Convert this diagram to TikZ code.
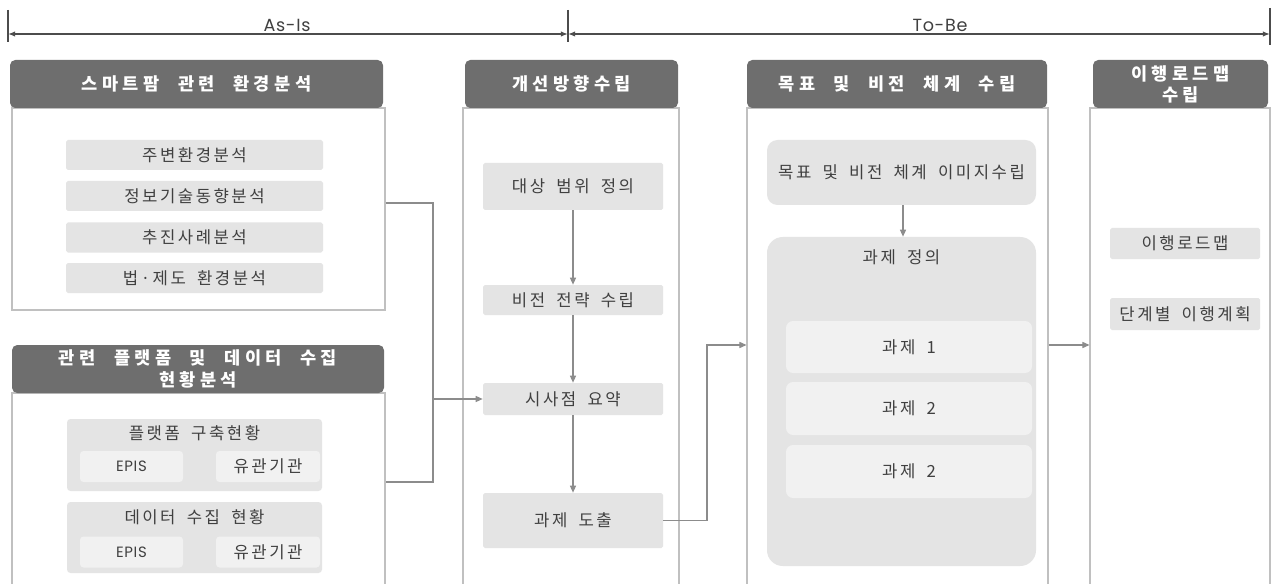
\documentclass[tikz,border=0pt]{standalone}
\usepackage{fontspec}
\setmainfont{Noto Sans CJK KR}[LetterSpace=15, WordSpace=1.8]
\newfontfamily\hdfont{Noto Sans CJK KR}[LetterSpace=25, WordSpace=2.2]
\newfontfamily\latfont{Poppins}[LetterSpace=4]
\usepackage{tikz}
\usetikzlibrary{arrows.meta, positioning}

\definecolor{hdgray}{HTML}{6E6E6E}
\definecolor{boxgray}{HTML}{E4E4E4}
\definecolor{subgray}{HTML}{F1F1F1}
\definecolor{linegray}{HTML}{C0C0C0}
\definecolor{arrgray}{HTML}{8C8C8C}
\definecolor{txtgray}{HTML}{404040}
\newcommand{\pxu}{0.02cm}

\begin{document}
\begin{tikzpicture}[x=0.02cm, y=-0.02cm,
  hdbox/.style={fill=hdgray, rounded corners=3pt, text=white, inner sep=0pt, align=center,
    font=\hdfont\bfseries\fontsize{10}{13}\selectfont, minimum height=48*\pxu},
  panel/.style={draw=linegray, fill=white, line width=0.6pt, inner sep=0pt},
  itembox/.style={fill=boxgray, text=txtgray, inner sep=0pt, rounded corners=1pt,
    font=\fontsize{9.5}{10}\selectfont, minimum height=30*\pxu},
  subbox/.style={fill=subgray, text=txtgray, inner sep=0pt, rounded corners=2pt,
    font=\fontsize{9.5}{10}\selectfont, minimum height=31*\pxu},
  lbl/.style={text=txtgray, inner sep=0pt, font=\fontsize{9.5}{10}\selectfont},
  conn/.style={draw=arrgray, line width=0.6pt},
  arr/.style={conn, -{Triangle[length=4pt, width=3.5pt]}},
  dim/.style={draw=black!70, line width=0.7pt, {Latex[length=4pt, width=3pt]}-{Latex[length=4pt, width=3pt]}},
]
  \clip (0,0) rectangle (1274,584);

  % time line
  \coordinate (tA) at (8,34);
  \coordinate (tB) at (568,34);
  \coordinate (tC) at (1270,34);
  \draw[black!70, line width=0.8pt] (8,10) -- (8,42) (568,10) -- (568,42) (1270,8) -- (1270,45);
  \draw[dim] (tA) -- (tB);
  \draw[dim] (tB) -- (tC);
  \node[font=\latfont\fontsize{10}{11}\selectfont, text=black!75] (asis) at (287,25) {As-Is};
  \node[font=\latfont\fontsize{10}{11}\selectfont, text=black!75] (tobe) at (940,25) {To-Be};

  % panels
  \node[panel, minimum width=373*\pxu, minimum height=202*\pxu] (env) at (198.5,209) {};
  \node[panel, minimum width=373*\pxu, minimum height=207*\pxu] (plat) at (198.5,496.5) {};
  \node[panel, minimum width=216*\pxu, minimum height=492*\pxu] (imp) at (571,354) {};
  \node[panel, minimum width=301*\pxu, minimum height=492*\pxu] (goal) at (897.5,354) {};
  \node[panel, minimum width=180*\pxu, minimum height=492*\pxu] (road) at (1180,354) {};

  % headers
  \node[hdbox, minimum width=373*\pxu] (envH) at (196.5,84) {스마트팜 관련 환경분석};
  \node[hdbox, minimum width=372*\pxu] (platH) at (198,369) {관련 플랫폼 및 데이터 수집\\현황분석};
  \node[hdbox, minimum width=213*\pxu] (impH) at (571.5,84) {개선방향수립};
  \node[hdbox, minimum width=300*\pxu] (goalH) at (897,84) {목표 및 비전 체계 수립};
  \node[hdbox, minimum width=175*\pxu, font=\hdfont\bfseries\fontsize{10}{12}\selectfont] (roadH) at (1180.5,84) {이행로드맵\\수립};

  % column 1
  \node[itembox, minimum width=257*\pxu] (e1) at (194.5,155) {주변환경분석};
  \node[itembox, minimum width=257*\pxu] (e2) at (194.5,196) {정보기술동향분석};
  \node[itembox, minimum width=257*\pxu] (e3) at (194.5,237.5) {추진사례분석};
  \node[itembox, minimum width=257*\pxu] (e4) at (194.5,278) {법·제도 환경분석};

  \node[itembox, minimum width=255*\pxu, minimum height=72*\pxu, rounded corners=2pt] (g1) at (194.5,455) {};
  \node[lbl] (g1t) at (194.5,433) {플랫폼 구축현황};
  \node[subbox, minimum width=103*\pxu, font=\latfont\fontsize{8.5}{9}\selectfont] (g1a) at (131.5,466.5) {EPIS};
  \node[subbox, minimum width=104*\pxu] (g1b) at (268,466.5) {유관기관};

  \node[itembox, minimum width=255*\pxu, minimum height=71*\pxu, rounded corners=2pt] (g2) at (194.5,537.5) {};
  \node[lbl] (g2t) at (194.5,517) {데이터 수집 현황};
  \node[subbox, minimum width=103*\pxu, font=\latfont\fontsize{8.5}{9}\selectfont] (g2a) at (131.5,552) {EPIS};
  \node[subbox, minimum width=104*\pxu] (g2b) at (268,552) {유관기관};

  % column 2
  \node[itembox, minimum width=180*\pxu, minimum height=47*\pxu] (s1) at (573,186.5) {대상 범위 정의};
  \node[itembox, minimum width=180*\pxu] (s2) at (573,300) {비전 전략 수립};
  \node[itembox, minimum width=180*\pxu, minimum height=32*\pxu] (s3) at (573,399) {시사점 요약};
  \node[itembox, minimum width=180*\pxu, minimum height=55*\pxu] (s4) at (573,520.5) {과제 도출};

  % column 3
  \node[itembox, minimum width=269*\pxu, minimum height=65*\pxu, rounded corners=6pt] (v1) at (901.5,172.5) {목표 및 비전 체계 이미지수립};
  \node[itembox, minimum width=269*\pxu, minimum height=329*\pxu, rounded corners=9pt] (tdef) at (901.5,401.5) {};
  \node[lbl] (tdefT) at (901.5,257) {과제 정의};
  \node[subbox, minimum width=246*\pxu, minimum height=52*\pxu, rounded corners=4pt] (k1) at (909,347) {과제 1};
  \node[subbox, minimum width=246*\pxu, minimum height=53*\pxu, rounded corners=4pt] (k2) at (909,408.5) {과제 2};
  \node[subbox, minimum width=246*\pxu, minimum height=53*\pxu, rounded corners=4pt] (k3) at (909,471.5) {과제 2};

  % column 4
  \node[itembox, minimum width=150*\pxu, minimum height=31*\pxu] (r1) at (1185,243.5) {이행로드맵};
  \node[itembox, minimum width=150*\pxu, minimum height=32*\pxu] (r2) at (1185,314) {단계별 이행계획};

  % connectors
  \coordinate (jn) at (433,399);
  \draw[conn] (env.east |- 0,203) -| (jn) |- (plat.east |- 0,482);
  \draw[arr] (jn) -- (s3.west);
  \draw[arr] (s1) -- (s2);
  \draw[arr] (s2) -- (s3);
  \draw[arr] (s3) -- (s4);
  \coordinate (bend) at (707,345);
  \draw[arr] (s4.east) -| (bend) -- (goal.west |- bend);
  \draw[arr] (v1.south -| 903,0) -- (tdef.north -| 903,0);
  \draw[arr] (goal.east |- bend) -- (road.west |- bend);
\end{tikzpicture}
\end{document}
